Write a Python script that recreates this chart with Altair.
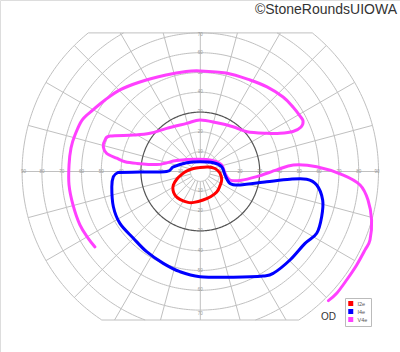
import altair as alt
import numpy as np
import pandas as pd

# ---- isopters (x: horizontal eccentricity in deg, + = right; y: vertical, + = up)
i2e_x = [-0.2, 3.9, 7.4, 9.9, 10.8, 9.7, 8.3, 5.4, 1.4, -3.2, -6.2, -10.3, -12.8, -13.8, -13.6, -11.8, -9.2, -6.7, -3.4]
i2e_y = [2.0, 2.3, 1.5, -0.8, -4.3, -7.8, -10.4, -12.6, -14.4, -15.6, -15.6, -14.1, -11.9, -9.3, -6.8, -3.8, -1.3, 0.3, 1.5]

i4e_x = [-41.6, -30.5, -17.0, -13.6, -6.9, -0.2, 6.6, 10.8, 12.5, 15.0, 20.1, 33.5, 45.3, 53.7, 58.8, 61.8,
         61.3, 58.8, 52.9, 45.3, 36.9, 31.8, 16.7, -0.2, -10.3, -18.7, -27.1, -33.8, -40.6, -43.9, -44.7, -43.9]
i4e_y = [-0.5, -0.3, 0.0, 2.3, 4.4, 4.9, 4.4, 2.4, -1.8, -6.0, -6.8, -5.2, -3.9, -3.9, -6.8, -14.4,
         -22.8, -31.2, -36.3, -44.7, -51.4, -52.8, -53.4, -53.1, -50.6, -46.4, -40.5, -33.7, -26.2, -17.8, -7.7, -2.6]

v4e_x = [-53.2, -56.7, -60.8, -64.3, -66.3, -66.3, -65.3, -63.3, -59.7, -54.2, -48.1, -40.6, -30.5, -17.3, -7.2,
         -0.2, 13.0, 25.1, 33.7, 41.8, 46.8, 50.4, 51.9, 50.9, 46.8, 40.3, 33.7, 23.6, 16.5, 8.4, -0.2, -6.9,
         -17.0, -25.4, -33.8, -45.6, -48.1, -49.0, -47.3, -42.2, -38.0, -32.1, -22.0, -17.3, -11.9, -1.8, 6.6,
         10.8, 12.5, 15.0, 20.1, 28.5, 38.6, 47.0, 58.8, 72.2, 80.7, 84.7, 86.5, 85.7, 83.2, 79.0, 73.9, 68.9, 64.7]
v4e_y = [-38.1, -33.6, -27.0, -16.9, -6.8, 3.3, 11.9, 18.4, 26.0, 31.1, 36.1, 41.2, 45.2, 48.7, 50.5,
         50.8, 49.7, 46.2, 42.7, 37.6, 32.6, 28.0, 25.5, 22.5, 20.2, 19.3, 19.3, 20.1, 22.6, 24.6, 26.0, 24.3,
         21.8, 19.3, 18.4, 17.9, 15.9, 12.5, 9.2, 6.7, 4.9, 4.1, 3.5, 4.3, 5.5, 6.2, 5.5,
         3.3, -0.9, -4.3, -4.5, -2.6, 0.8, 3.3, 2.4, -1.8, -6.8, -14.4, -24.5, -34.6, -39.6, -47.2, -54.8, -61.5, -65.2]

series_names = ["I2e", "I4e", "V4e"]
series_colors = ["#ff0000", "#0000ff", "#ff40ff"]

# ---- chart grid definition
circle_radii = [5, 10, 20, 30, 40, 50, 60, 70, 80, 90]
meridian_angles = list(range(0, 360, 15))
tick_values = [10, 20, 30, 40, 50, 60, 70, 80, 90]
top_limit, bottom_limit, outer = 70, 75, 90

# ---- build curve table
rows = []
for name, xs, ys, closed in [("V4e", v4e_x, v4e_y, False), ("I4e", i4e_x, i4e_y, True), ("I2e", i2e_x, i2e_y, True)]:
    xs2, ys2 = list(xs), list(ys)
    if closed:
        xs2.append(xs[0]); ys2.append(ys[0])
    for k, (a, b) in enumerate(zip(xs2, ys2)):
        rows.append({"series": name, "x": a, "y": b, "i": k})
curves = pd.DataFrame(rows)

# ---- build grid table
g = []
seg = [0]
def add_arc(r, t0, t1, kind):
    ts = np.linspace(t0, t1, max(3, int(abs(t1 - t0)) + 1))
    for k, t in enumerate(ts):
        g.append({"seg": seg[0], "kind": kind, "i": k,
                  "x": r * np.cos(np.radians(t)), "y": r * np.sin(np.radians(t))})
    seg[0] += 1

for r in circle_radii:
    kind = "dark" if r == 30 else "light"
    if r <= top_limit:
        add_arc(r, 0, 360, kind)
    elif r <= bottom_limit:
        a = np.degrees(np.arcsin(top_limit / r))
        add_arc(r, 180 - a, 360 + a, kind)
    else:
        a = np.degrees(np.arcsin(top_limit / r))
        b = np.degrees(np.arcsin(bottom_limit / r))
        add_arc(r, -b, a, kind)
        add_arc(r, 180 - a, 180 + b, kind)

for phi in meridian_angles:
    s = np.sin(np.radians(phi)); c = np.cos(np.radians(phi))
    r_end = outer
    if s > 1e-9:
        r_end = min(outer, top_limit / s)
    elif s < -1e-9:
        r_end = min(outer, bottom_limit / -s)
    for k, r in enumerate([5, r_end]):
        g.append({"seg": seg[0], "kind": "light", "i": k, "x": r * c, "y": r * s})
    seg[0] += 1

for lim, sign in [(top_limit, 1), (bottom_limit, -1)]:
    half = np.sqrt(outer ** 2 - lim ** 2)
    for k, xv in enumerate([-half, half]):
        g.append({"seg": seg[0], "kind": "light", "i": k, "x": xv, "y": sign * lim})
    seg[0] += 1
grid = pd.DataFrame(g)

# ---- tick labels
lab = []
for v in tick_values:
    lab.append({"x": -v, "y": 0, "t": str(v), "grp": "left90" if v == 90 else "c"})
    lab.append({"x": v, "y": 0, "t": str(v), "grp": "right90" if v == 90 else "c"})
    if v <= 70:
        lab.append({"x": 0, "y": v, "t": str(v), "grp": "top70" if v == 70 else "c"})
        lab.append({"x": 0, "y": -v, "t": str(v), "grp": "bot70" if v == 70 else "c"})
labels = pd.DataFrame(lab)

# ---- scales: 1.98 px per degree, centre at (200.3, 171.5)
W, H = 400, 352
cx, cy, ppd = 200.3, 171.5, 1.98
xs = alt.Scale(domain=[-cx / ppd, (W - cx) / ppd], nice=False, zero=False)
ys = alt.Scale(domain=[-(H - cy) / ppd, cy / ppd], nice=False, zero=False)
X = alt.X("x:Q", scale=xs, axis=None)
Y = alt.Y("y:Q", scale=ys, axis=None)

grid_light = alt.Chart(grid).transform_filter("datum.kind == 'light'").mark_line(
    color="#c0c0c0", strokeWidth=1).encode(X, Y, detail="seg:N", order="i:Q")
grid_dark = alt.Chart(grid).transform_filter("datum.kind == 'dark'").mark_line(
    color="#555555", strokeWidth=1.2).encode(X, Y, detail="seg:N", order="i:Q")

def label_layer(grp, **kw):
    return alt.Chart(labels).transform_filter(f"datum.grp == '{grp}'").mark_text(
        fontSize=4.5, color="#9a9a9a", font="Liberation Sans", baseline="middle", **kw
    ).encode(X, Y, text="t:N")

tick_layers = [label_layer("c", align="center"),
               label_layer("left90", align="left", dx=-1),
               label_layer("right90", align="right", dx=1),
               label_layer("top70", align="center", dy=2),
               label_layer("bot70", align="center", dy=4)]

color_scale = alt.Scale(domain=series_names, range=series_colors)
lines = alt.Chart(curves).mark_line(strokeWidth=3, interpolate="cardinal",
                                    strokeCap="round", strokeJoin="round").encode(
    X, Y,
    color=alt.Color("series:N", scale=color_scale,
                    legend=alt.Legend(orient="none", legendX=345, legendY=298, title=None,
                                      symbolType="square", symbolSize=4, symbolStrokeWidth=3,
                                      clipHeight=5,
                                      labelFontSize=5.5, labelColor="#555", labelFont="Liberation Sans",
                                      labelOffset=4, rowPadding=2, padding=3,
                                      strokeColor="#bbbbbb", fillColor="white")),
    detail="series:N", order="i:Q")

copyright_txt = alt.Chart(pd.DataFrame({"t": ["\u00a9StoneRoundsUIOWA"]})).mark_text(
    align="right", baseline="alphabetic", fontSize=14, font="Liberation Sans", color="#333333"
).encode(x=alt.value(397), y=alt.value(14), text="t:N")

od_txt = alt.Chart(pd.DataFrame({"t": ["OD"]})).mark_text(
    align="center", baseline="middle", fontSize=10, font="Liberation Sans", color="#333333"
).encode(x=alt.value(328.5), y=alt.value(316.5), text="t:N")

chart = alt.layer(grid_light, grid_dark, *tick_layers, lines, copyright_txt, od_txt).properties(
    width=W, height=H, padding=0, autosize=alt.AutoSizeParams(type="none")
).configure_view(stroke=None).configure(background="white")

chart.save("out.html", embed_options={"renderer": "svg", "actions": False})
